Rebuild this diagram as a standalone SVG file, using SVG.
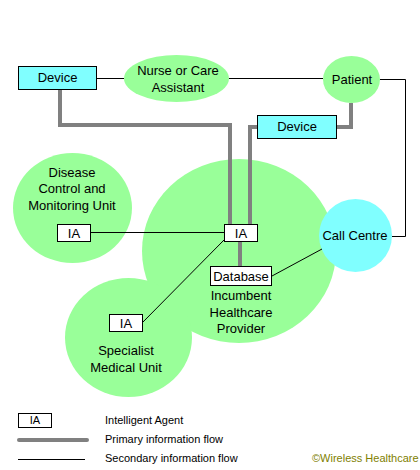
<svg xmlns="http://www.w3.org/2000/svg" width="420" height="470" viewBox="0 0 420 470">
<style>
text{font-family:"Liberation Sans",Arial,sans-serif;font-size:13px;fill:#000;text-anchor:middle}
.g{fill:#99FF99;stroke:none}
.c{fill:#80FFFF;stroke:none}
.dev{fill:#80FFFF;stroke:#000;stroke-width:1}
.box{fill:#fff;stroke:#000;stroke-width:1}
.p{fill:none;stroke:#808080;stroke-width:4}
.s{fill:none;stroke:#000;stroke-width:1}
.lg{font-size:11px;text-anchor:start}
</style>
<rect width="420" height="470" fill="#fff"/>
<g id="disease"><ellipse class="g" cx="72.5" cy="208" rx="59.5" ry="55"/>
<text x="72" y="177">Disease</text><text x="72" y="193">Control and</text><text x="72" y="210">Monitoring Unit</text></g>
<g id="incumbent"><ellipse class="g" cx="239" cy="251" rx="97" ry="92"/>
<text x="241" y="300">Incumbent</text><text x="241" y="317">Healthcare</text><text x="241" y="333">Provider</text></g>
<g id="specialist"><ellipse class="g" cx="128.5" cy="337.5" rx="63.5" ry="59.5"/>
<text x="126" y="355">Specialist</text><text x="126" y="372">Medical Unit</text></g>
<g id="callcentre"><circle class="c" cx="355.5" cy="235.5" r="36.5"/><text x="355" y="240">Call Centre</text></g>
<g id="nurse"><ellipse class="g" cx="176.5" cy="78.5" rx="52.5" ry="23.5"/><text x="178" y="75">Nurse or Care</text><text x="178" y="92">Assistant</text></g>
<g id="patient"><ellipse class="g" cx="351.5" cy="79.5" rx="28.5" ry="23.5"/><text x="352" y="84">Patient</text></g>
<g id="connectors">
<polyline class="p" points="60,89 60,125 230,125 230,224"/>
<polyline class="p" points="257,127 250,127 250,224"/>
<polyline class="p" points="336,127 351,127 351,103"/>
<line class="p" x1="240" y1="241" x2="240" y2="266"/>
<line class="s" x1="97" y1="78.5" x2="124" y2="78.5"/>
<line class="s" x1="229" y1="78.5" x2="323" y2="78.5"/>
<polyline class="s" points="380,79.5 405.5,79.5 405.5,236.5 392,236.5"/>
<line class="s" x1="91" y1="232.5" x2="224" y2="232.5"/>
<line class="s" x1="224" y1="240" x2="143" y2="322"/>
<line class="s" x1="272" y1="276" x2="322" y2="249"/>
</g>
<g id="device1"><rect class="dev" x="18.5" y="66.5" width="78" height="23"/><text x="57.5" y="82">Device</text></g>
<g id="device2"><rect class="dev" x="257.5" y="115.5" width="79" height="23"/><text x="297" y="131">Device</text></g>
<g id="ia1"><rect class="box" x="57.5" y="224.5" width="33" height="17"/><text x="74" y="238">IA</text></g>
<g id="ia2"><rect class="box" x="224.5" y="224.5" width="33" height="17"/><text x="241" y="238">IA</text></g>
<g id="database"><rect class="box" x="210.5" y="266.5" width="61" height="19"/><text x="241" y="281">Database</text></g>
<g id="ia3"><rect class="box" x="109.5" y="314.5" width="33" height="17"/><text x="126" y="328">IA</text></g>
<g id="legend">
<rect class="box" x="18.5" y="413.5" width="33" height="14"/><text x="35" y="424" style="font-size:11px">IA</text>
<text class="lg" x="105" y="424">Intelligent Agent</text>
<line x1="19" y1="440" x2="87" y2="440" stroke="#808080" stroke-width="4" stroke-linecap="round"/>
<text class="lg" x="105" y="443">Primary information flow</text>
<line class="s" x1="18" y1="459.5" x2="85" y2="459.5"/>
<text class="lg" x="105" y="462">Secondary information flow</text>
<text class="lg" x="312" y="462" style="fill:#808000">©Wireless Healthcare</text>
</g>
</svg>
